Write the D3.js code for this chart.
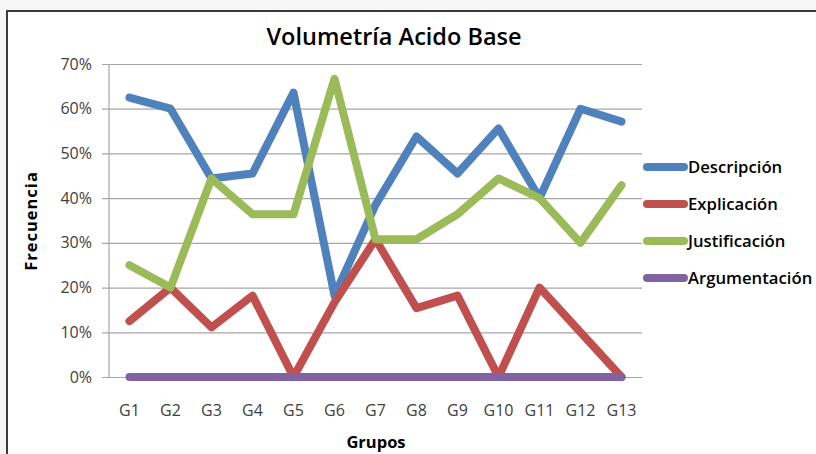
<!DOCTYPE html>
<html><head><meta charset="utf-8">
<script src="https://cdn.jsdelivr.net/npm/d3@7"></script>
<style>
html,body{margin:0;padding:0;background:#fff;}
svg{display:block;}
</style></head>
<body><svg id="c" width="816" height="454"></svg>
<script>
const categories = ["G1","G2","G3","G4","G5","G6","G7","G8","G9","G10","G11","G12","G13"];
const descripcion   = [0.625,0.60,0.444,0.455,0.636,0.182,0.385,0.538,0.455,0.556,0.40,0.60,0.571];
const explicacion   = [0.125,0.20,0.111,0.182,0.0,0.167,0.308,0.154,0.182,0.0,0.20,0.10,0.0];
const justificacion = [0.25,0.20,0.444,0.364,0.364,0.667,0.308,0.308,0.364,0.444,0.40,0.30,0.429];
const argumentacion = [0,0,0,0,0,0,0,0,0,0,0,0,0];
const seriesNames = ["Descripción","Explicación","Justificación","Argumentación"];
const seriesColors = ["#4F81BD","#C0504D","#9BBB59","#8064A2"];
const yTicks = [0,0.1,0.2,0.3,0.4,0.5,0.6,0.7];
const title = "Volumetría Acido Base";
const xTitle = "Grupos";
const yTitle = "Frecuencia";

(function(){
const series = [descripcion, explicacion, justificacion, argumentacion].map((v,i)=>({name:seriesNames[i],color:seriesColors[i],values:v}));

const svg = d3.select("#c");
const font = "'Open Sans', 'Liberation Sans', sans-serif";

svg.append("rect").attr("width",816).attr("height",454).attr("fill","#f6f6f6");
svg.append("rect").attr("x",7).attr("y",11).attr("width",820).attr("height",460).attr("fill","#fff")
  .attr("stroke","#3a3a3a").attr("stroke-width",2);

const pLeft = 109, pRight = 642, pTop = 64, pBottom = 377;
const x = d3.scaleBand().domain(categories).range([pLeft,pRight]);
const y = d3.scaleLinear().domain([0,0.7]).range([pBottom,pTop]);

const yAxis = d3.axisLeft(y).tickValues(yTicks).tickFormat(d3.format(".0%")).tickSize(-(pRight-pLeft)).tickPadding(17);
const gy = svg.append("g").attr("transform",`translate(${pLeft},0)`).call(yAxis);
gy.select(".domain").remove();
gy.selectAll(".tick line").attr("stroke","#a6a6a6").attr("stroke-width",1.2).attr("x1",-7);
gy.selectAll(".tick text").attr("fill","#404040").style("font-family",font).style("font-size","16px");
svg.append("line").attr("x1",pLeft).attr("x2",pLeft).attr("y1",pTop).attr("y2",pBottom).attr("stroke","#a6a6a6").attr("stroke-width",1.2);

const xAxis = d3.axisBottom(x).tickSize(0).tickPadding(28);
const gx = svg.append("g").attr("transform",`translate(0,${pBottom})`).call(xAxis);
gx.select(".domain").attr("stroke","#a6a6a6").attr("stroke-width",1.2);
gx.selectAll(".tick text").attr("fill","#404040").style("font-family",font).style("font-size","16px");

const line = d3.line().x((d,i)=>x(categories[i])+x.bandwidth()/2).y(d=>y(d));
series.forEach(s=>{
  svg.append("path").datum(s.values).attr("d",line).attr("fill","none")
    .attr("stroke",s.color).attr("stroke-width",8).attr("stroke-linecap","round").attr("stroke-linejoin","round");
});

svg.append("text").attr("x",394).attr("y",45).attr("text-anchor","middle")
  .style("font-family",font).style("font-size","23.5px").style("font-weight","600").attr("fill","#000").text(title);
svg.append("text").attr("x",376).attr("y",448).attr("text-anchor","middle")
  .style("font-family",font).style("font-size","16.5px").style("font-weight","700").attr("fill","#000").text(xTitle);
svg.append("text").attr("transform","translate(37,221) rotate(-90)").attr("text-anchor","middle")
  .style("font-family",font).style("font-size","16.5px").style("font-weight","700").style("letter-spacing","1px").attr("fill","#000").text(yTitle);

const lg = svg.append("g");
series.forEach((s,i)=>{
  const ly = 167 + i*37;
  lg.append("line").attr("x1",647).attr("x2",684).attr("y1",ly).attr("y2",ly)
    .attr("stroke",s.color).attr("stroke-width",8).attr("stroke-linecap","round");
  lg.append("text").attr("x",688).attr("y",ly+6).style("font-family",font).style("font-size","16.7px")
    .style("font-weight","600").attr("fill","#000").text(s.name);
});
})();
</script></body></html>
